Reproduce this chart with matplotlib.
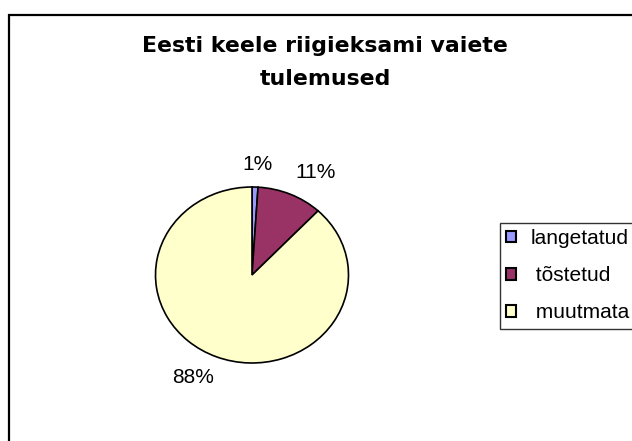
import matplotlib
matplotlib.use("Agg")
import matplotlib.pyplot as plt
from matplotlib.patches import Rectangle

# data
categories = ['langetatud', ' tõstetud', ' muutmata']
shares = [1, 11, 88]
colors = ['#9999FF', '#993366', '#FFFFCC']
pct_labels = ['1%', '11%', '88%']

W, H = 632, 441
fig = plt.figure(figsize=(W / 100, H / 100), dpi=100)
fig.patch.set_facecolor('white')


def px(x, y):
    # pixel (top-left origin) -> figure fraction
    return x / W, 1 - y / H


# chart frame (left and top edges visible, rest cut off)
x0, y0 = px(8.5, 14.5)
fig.patches.append(Rectangle((x0, -0.1), 1.2, y0 + 0.1, transform=fig.transFigure,
                             fill=False, edgecolor='black', linewidth=1.6))

# title
tx, ty = px(325, 52)
fig.text(tx, ty, 'Eesti keele riigieksami vaiete', ha='center', va='baseline',
         fontsize=15.8, fontweight='bold', family='DejaVu Sans')
tx, ty = px(325, 85)
fig.text(tx, ty, 'tulemused', ha='center', va='baseline',
         fontsize=15.8, fontweight='bold', family='DejaVu Sans')

# pie, slightly wider than tall as in the original
cx, cy, rx, ry = 252, 275, 96.5, 88
l, b = px(cx - rx, cy + ry)
ax = fig.add_axes([l, b, 2 * rx / W, 2 * ry / H])
wedges, _ = ax.pie(shares, colors=colors, startangle=90, counterclock=False,
                   wedgeprops=dict(edgecolor='black', linewidth=1.2))
ax.set_aspect('auto')
ax.set_xlim(-1, 1)
ax.set_ylim(-1, 1)
ax.axis('off')

# percent labels (positions in pie units)
label_pos = [(0.06, 1.25), (0.66, 1.17), (-0.61, -1.16)]
for txt, (lx, ly) in zip(pct_labels, label_pos):
    ax.text(lx, ly, txt, ha='center', va='center', fontsize=15,
            family='Liberation Sans', clip_on=False)

# legend
lx, ly = px(500, 223)
leg = fig.legend(wedges, categories, loc='upper left', bbox_to_anchor=(lx, ly),
                 borderaxespad=0, frameon=True, fancybox=False,
                 prop={'family': 'Liberation Sans', 'size': 15},
                 handlelength=0.45, handleheight=0.45, handletextpad=0.7,
                 labelspacing=0.87, borderpad=0.3)
leg.get_frame().set_edgecolor('black')
leg.get_frame().set_linewidth(1.0)
for h in leg.legend_handles:
    h.set_linewidth(1.5)

fig.savefig('out.png', dpi=100)
